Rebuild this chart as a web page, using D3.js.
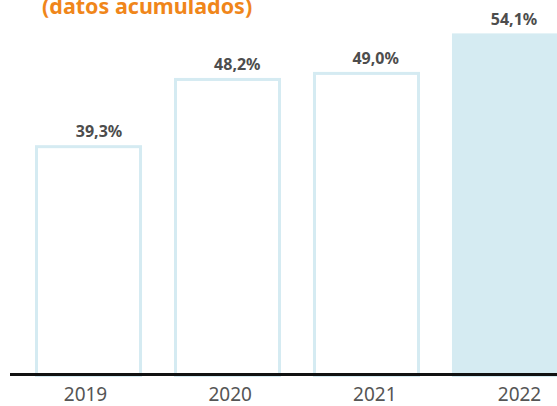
<!DOCTYPE html>
<html>
<head>
<meta charset="utf-8">
<script src="https://cdn.jsdelivr.net/npm/d3@7"></script>
<style>
  body { margin: 0; background: #fff; }
  svg { display: block; }
  text { font-family: "Noto Sans", "DejaVu Sans", sans-serif; }
</style>
</head>
<body>
<div id="chart"></div>
<script>
// data
var years = ["2019", "2020", "2021", "2022"];
var values = [39.3, 48.2, 49.0, 54.1];
var valueLabels = ["39,3%", "48,2%", "49,0%", "54,1%"];
var title = "(datos acumulados)";

var width = 557;
var height = 406;
var baseline = 374;

var svg = d3.select("#chart")
    .append("svg")
    .attr("width", width)
    .attr("height", height);

// scales
var x = d3.scaleBand()
    .domain(years)
    .range([35, 559])
    .paddingInner(0.23)
    .paddingOuter(0);

// value labels sit a bit right of the bar centres
var xVal = d3.scalePoint()
    .domain(years)
    .range([99, 514]);

var xLabel = d3.scalePoint()
    .domain(years)
    .range([85, 519]);

var y = d3.scaleLinear()
    .domain([9, 55])
    .range([baseline, 26.6]);

var sw = 3;

svg.selectAll(".bar")
    .data(years)
    .enter()
    .append("rect")
    .attr("class", "bar")
    .attr("x", function (d) { return x(d) + sw / 2; })
    .attr("width", x.bandwidth() - sw)
    .attr("y", function (d, i) { return y(values[i]) + sw / 2; })
    .attr("height", function (d, i) { return baseline - y(values[i]); })
    .attr("fill", function (d, i) { return i == years.length - 1 ? "#d5ebf2" : "#fff"; })
    .attr("stroke", "#d5ebf2")
    .attr("stroke-width", sw);

// value labels
svg.selectAll(".val")
    .data(years)
    .enter()
    .append("text")
    .attr("class", "val")
    .attr("x", function (d) { return xVal(d); })
    .attr("y", function (d, i) { return y(values[i]) - 8; })
    .attr("text-anchor", "middle")
    .attr("font-size", "16px")
    .attr("font-weight", "bold")
    .attr("fill", "#4d4d4d")
    .text(function (d, i) { return valueLabels[i]; });

// x axis
var xAxis = d3.axisBottom(xLabel).tickSize(0);
var gx = svg.append("g")
    .attr("transform", "translate(0," + baseline + ")")
    .call(xAxis);
gx.select(".domain").remove();
gx.selectAll("text")
    .attr("y", 27)
    .attr("dy", 0)
    .attr("font-size", "19px")
    .attr("font-family", "\"Noto Sans\", sans-serif")
    .attr("fill", "#555");

svg.append("line")
    .attr("x1", 10)
    .attr("x2", width)
    .attr("y1", baseline + 0.5)
    .attr("y2", baseline + 0.5)
    .attr("stroke", "#111")
    .attr("stroke-width", 3);

// title, cut off at the top
svg.append("text")
    .attr("x", 42)
    .attr("y", 14)
    .attr("font-size", "21.5px")
    .attr("font-weight", "bold")
    .attr("fill", "#f0861a")
    .text(title);
</script>
</body>
</html>
